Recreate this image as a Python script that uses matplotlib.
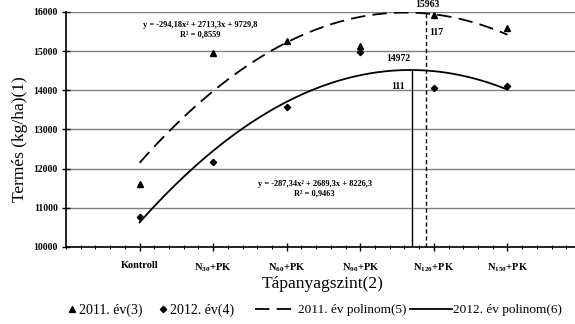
import matplotlib.pyplot as plt
import numpy as np

plt.rcParams['font.family'] = ['Liberation Serif', 'DejaVu Serif']
plt.rcParams['mathtext.fontset'] = 'custom'
plt.rcParams['mathtext.rm'] = 'Liberation Serif'
plt.rcParams['mathtext.bf'] = 'Liberation Serif:bold'

# adatok
kategoriak = ['Kontroll', r'N$_{\mathbf{30}}$+PK', r'N$_{\mathbf{60}}$+PK',
              r'N$_{\mathbf{90}}$+PK', r'N$_{\mathbf{120}}$+PK', r'N$_{\mathbf{150}}$+PK']
x = np.arange(1, 7)
ev2011 = [11600, 14950, 15270, 15130, 15930, 15600]
ev2012 = [10760, 12180, 13580, 14980, 14060, 14100]

# trendvonal együtthatók (Excel)
p2011 = [-294.18, 2713.3, 9729.8]
p2012 = [-287.34, 2689.3, 8226.3]

# maximum jelölések
max2011_x, max2011_lbl, max2011_n = 4.89, '15963', '117'
max2012_x, max2012_lbl, max2012_n = 4.70, '14972', '111'

fig = plt.figure(figsize=(5.75, 3.24), dpi=100)
ax = fig.add_axes([0.1148, 0.2377, 0.8957, 0.7253])

xs = np.linspace(1, 6, 200)
l5, = ax.plot(xs, np.polyval(p2011, xs), color='black', lw=1.3, dashes=(8, 4),
              label='2011. év polinom(5)')
l6, = ax.plot(xs, np.polyval(p2012, xs), color='black', lw=1.3,
              label='2012. év polinom(6)')
l3, = ax.plot(x, ev2011, '^', color='black', ms=4.5, label='2011. év(3)')
l4, = ax.plot(x, ev2012, 'D', color='black', ms=3.2, label='2012. év(4)')

# függőleges vonalak a maximumoknál
ax.plot([max2012_x, max2012_x], [10000, np.polyval(p2012, max2012_x)],
        color='black', lw=1)
ax.plot([max2011_x, max2011_x], [10000, np.polyval(p2011, max2011_x)],
        color='black', lw=1, dashes=(3, 2))

ax.text(max2011_x + 0.02, 16200, max2011_lbl, ha='center', va='center',
        fontsize=7, fontweight='bold', clip_on=False)
ax.text(max2011_x + 0.04, 15480, max2011_n, ha='left', va='center',
        fontsize=7, fontweight='bold')
ax.text(max2012_x - 0.02, 14800, max2012_lbl, ha='right', va='center',
        fontsize=7, fontweight='bold')
ax.text(max2012_x - 0.1, 14100, max2012_n, ha='right', va='center',
        fontsize=7, fontweight='bold')

ax.text(1.82, 15660, 'y = -294,18x² + 2713,3x + 9729,8', ha='center',
        va='center', fontsize=6, fontweight='bold')
ax.text(1.82, 15430, 'R² = 0,8559', ha='center', va='center',
        fontsize=6, fontweight='bold')
ax.text(3.38, 11600, 'y = -287,34x² + 2689,3x + 8226,3', ha='center',
        va='center', fontsize=6, fontweight='bold')
ax.text(3.38, 11370, 'R² = 0,9463', ha='center', va='center',
        fontsize=6, fontweight='bold')

ax.set_xlim(0, 7)
ax.set_ylim(10000, 16000)
ax.set_xticks(x)
ax.set_xticklabels(kategoriak, fontsize=7.5, fontweight='bold')
ax.set_xticks(np.arange(0, 7.01, 0.2), minor=True)
ax.set_yticks(np.arange(10000, 16001, 1000))
for t in ax.get_yticklabels():
    t.set_fontsize(7)
    t.set_fontweight('bold')
ax.tick_params(axis='both', which='major', direction='inout', length=6,
               width=1, pad=3)
ax.tick_params(axis='x', which='minor', direction='inout', length=3, width=0.8)
ax.tick_params(axis='x', which='major', pad=7)
ax.grid(axis='y', color='#808080', lw=1)
ax.set_axisbelow(True)
for s in ['top', 'right']:
    ax.spines[s].set_visible(False)
ax.spines['left'].set_linewidth(1.2)
ax.spines['bottom'].set_linewidth(1.2)

ax.set_ylabel('Termés (kg/ha)(1)', fontsize=12.5)
ax.yaxis.set_label_coords(-0.074, 0.46)
ax.set_xlabel('Tápanyagszint(2)', fontsize=12.5)
ax.xaxis.set_label_coords(0.498, -0.125)

leg1 = fig.legend([l3, l4], ['2011. év(3)', '2012. év(4)'], loc='center left',
                  bbox_to_anchor=(68 / 575, 1 - 310 / 324), ncol=2,
                  frameon=False, fontsize=10, handlelength=0.6,
                  handletextpad=0.2, columnspacing=1.2, borderaxespad=0,
                  borderpad=0)
leg2 = fig.legend([l5, l6], ['2011. év polinom(5)', '2012. év polinom(6)'],
                  loc='center left', bbox_to_anchor=(255 / 575, 1 - 310 / 324),
                  ncol=2, frameon=False, fontsize=9.5, handlelength=3.2,
                  handletextpad=0.05, columnspacing=0.25, borderaxespad=0,
                  borderpad=0)

fig.savefig('out.png', dpi=100)
